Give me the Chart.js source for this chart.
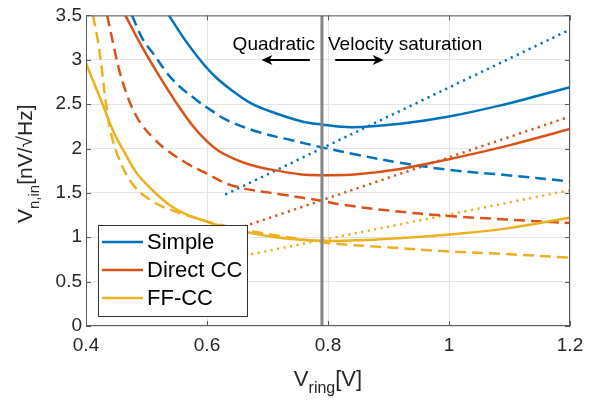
<!DOCTYPE html>
<html>
<head>
<meta charset="utf-8">
<script src="https://cdn.jsdelivr.net/npm/chart.js@4/dist/chart.umd.min.js"></script>
<style>
  body { margin: 0; background: #fff; }
</style>
</head>
<body>
<canvas id="noiseChart" width="596" height="401"></canvas>
<script>
// input-referred noise vs ring voltage, three amplifier variants
const seriesNames = ['Simple', 'Direct CC', 'FF-CC'];
const xTicks = [0.4, 0.6, 0.8, 1, 1.2];
const yTicks = [0, 0.5, 1, 1.5, 2, 2.5, 3, 3.5];
const boundaryX = 0.79; // quadratic / velocity saturation boundary

// Simple
const simpleX = [0.537, 0.565, 0.593, 0.615, 0.643, 0.67, 0.7, 0.754, 0.79, 0.84, 0.92, 1.0, 1.1, 1.15, 1.2];
const simpleY = [3.5, 3.21, 2.96, 2.80, 2.645, 2.52, 2.43, 2.31, 2.27, 2.24, 2.28, 2.36, 2.51, 2.60, 2.69];
const simpleDashX = [0.476, 0.494, 0.511, 0.544, 0.582, 0.607, 0.633, 0.688, 0.742, 0.792, 0.848, 0.919, 1.0, 1.096, 1.2];
const simpleDashY = [3.5, 3.23, 3.07, 2.77, 2.55, 2.43, 2.32, 2.18, 2.09, 2.01, 1.93, 1.84, 1.76, 1.70, 1.63];
const simpleDotX = [0.63, 1.2];
const simpleDotY = [1.48, 3.34];

// Direct CC
const directX = [0.465, 0.489, 0.511, 0.544, 0.577, 0.6, 0.62, 0.643, 0.67, 0.7, 0.754, 0.79, 0.848, 0.919, 1.0, 1.096, 1.2];
const directY = [3.5, 3.19, 2.93, 2.57, 2.25, 2.08, 1.97, 1.89, 1.82, 1.77, 1.71, 1.70, 1.71, 1.77, 1.88, 2.03, 2.22];
const directDashX = [0.435, 0.445, 0.455, 0.469, 0.482, 0.494, 0.511, 0.532, 0.565, 0.593, 0.643, 0.726, 0.79, 0.82, 0.902, 1.0, 1.096, 1.2];
const directDashY = [3.5, 3.18, 2.88, 2.58, 2.38, 2.25, 2.12, 1.99, 1.84, 1.74, 1.58, 1.48, 1.41, 1.37, 1.30, 1.24, 1.20, 1.16];
const directDotX = [0.63, 1.2];
const directDotY = [1.05, 2.36];

// FF-CC
const ffX = [0.4, 0.428, 0.446, 0.465, 0.483, 0.51, 0.537, 0.565, 0.598, 0.616, 0.671, 0.726, 0.792, 0.864, 0.919, 1.0, 1.096, 1.2];
const ffY = [2.96, 2.49, 2.18, 1.94, 1.73, 1.53, 1.37, 1.26, 1.18, 1.14, 1.05, 0.99, 0.96, 0.97, 0.99, 1.03, 1.10, 1.22];
const ffDashX = [0.4116, 0.42, 0.426, 0.433, 0.441, 0.455, 0.478, 0.511, 0.544, 0.58, 0.616, 0.671, 0.754, 0.808, 0.891, 1.0, 1.096, 1.2];
const ffDashY = [3.5, 3.2, 2.9, 2.51, 2.18, 1.88, 1.59, 1.40, 1.30, 1.22, 1.15, 1.07, 0.98, 0.93, 0.89, 0.84, 0.81, 0.77];
const ffDotX = [0.63, 1.2];
const ffDotY = [0.75, 1.53];

const FONT = "'Liberation Sans', Arial, Helvetica, sans-serif";
const BLUE = '#0072BD', RED = '#D95319', YEL = '#EDB120';
const AXIS = '#5a5a5a', TEXT = '#262626';
const DASH = [11, 6], DOT = [2.2, 4.4];

function series(xs, ys, color, dash, label) {
  return {
    label: label || '',
    inLegend: !!label,
    data: xs.map((x, i) => ({ x: x, y: ys[i] })),
    borderColor: color,
    backgroundColor: color,
    borderWidth: 2.5,
    borderDash: dash || [],
    borderCapStyle: 'butt',
    pointRadius: 0,
    tension: 0.4,
    fill: false
  };
}

const datasets = [
  {
    label: '',
    inLegend: false,
    data: [{ x: boundaryX, y: yTicks[0] }, { x: boundaryX, y: yTicks[yTicks.length - 1] }],
    borderColor: '#858585',
    borderWidth: 3,
    pointRadius: 0
  },
  series(simpleX, simpleY, BLUE, null, seriesNames[0]),
  series(directX, directY, RED, null, seriesNames[1]),
  series(ffX, ffY, YEL, null, seriesNames[2]),
  series(simpleDashX, simpleDashY, BLUE, DASH),
  series(directDashX, directDashY, RED, DASH),
  series(ffDashX, ffDashY, YEL, DASH),
  series(simpleDotX, simpleDotY, BLUE, DOT),
  series(directDotX, directDotY, RED, DOT),
  series(ffDotX, ffDotY, YEL, DOT)
];

// text with a lowered, smaller middle part: main + sub + rest
function drawSubText(ctx, x, y, main, sub, rest, size, subSize, drop) {
  ctx.font = size + 'px ' + FONT;
  const w1 = ctx.measureText(main).width;
  const w3 = ctx.measureText(rest).width;
  ctx.font = subSize + 'px ' + FONT;
  const w2 = ctx.measureText(sub).width;
  let cx = x - (w1 + w2 + w3) / 2;
  ctx.textAlign = 'left';
  ctx.textBaseline = 'alphabetic';
  ctx.font = size + 'px ' + FONT;
  ctx.fillText(main, cx, y);
  cx += w1;
  ctx.font = subSize + 'px ' + FONT;
  ctx.fillText(sub, cx, y + drop);
  cx += w2;
  ctx.font = size + 'px ' + FONT;
  ctx.fillText(rest, cx, y);
}

function arrow(ctx, x1, x2, y) {
  const dir = x2 > x1 ? 1 : -1;
  ctx.beginPath();
  ctx.moveTo(x1, y);
  ctx.lineTo(x2 - dir * 6, y);
  ctx.lineWidth = 2;
  ctx.stroke();
  ctx.beginPath();
  ctx.moveTo(x2, y);
  ctx.lineTo(x2 - dir * 11, y - 5);
  ctx.lineTo(x2 - dir * 8, y);
  ctx.lineTo(x2 - dir * 11, y + 5);
  ctx.closePath();
  ctx.fill();
}

const decorations = {
  id: 'decorations',
  afterDatasetsDraw(chart) {
    const ctx = chart.ctx;
    const a = chart.chartArea;
    const xs = chart.scales.x, ys = chart.scales.y;
    ctx.save();

    // box and inward ticks
    ctx.strokeStyle = AXIS;
    ctx.lineWidth = 1;
    ctx.strokeRect(a.left + 0.5, a.top + 0.5, a.right - a.left - 1, a.bottom - a.top - 1);
    ctx.beginPath();
    xTicks.forEach(v => {
      const px = Math.round(xs.getPixelForValue(v)) + 0.5;
      ctx.moveTo(px, a.bottom); ctx.lineTo(px, a.bottom - 5);
      ctx.moveTo(px, a.top); ctx.lineTo(px, a.top + 5);
    });
    yTicks.forEach(v => {
      const py = Math.round(ys.getPixelForValue(v)) + 0.5;
      ctx.moveTo(a.left, py); ctx.lineTo(a.left + 5, py);
      ctx.moveTo(a.right, py); ctx.lineTo(a.right - 5, py);
    });
    ctx.stroke();

    // regime labels and arrows
    ctx.fillStyle = '#000';
    ctx.strokeStyle = '#000';
    ctx.font = '19px ' + FONT;
    ctx.textBaseline = 'alphabetic';
    const ty = ys.getPixelForValue(3.11);
    ctx.textAlign = 'right';
    ctx.fillText('Quadratic', xs.getPixelForValue(0.7785), ty);
    ctx.textAlign = 'left';
    ctx.fillText('Velocity saturation', xs.getPixelForValue(0.8), ty);
    const ay = Math.round(ys.getPixelForValue(3.0));
    arrow(ctx, xs.getPixelForValue(0.770), xs.getPixelForValue(0.690), ay);
    arrow(ctx, xs.getPixelForValue(0.812), xs.getPixelForValue(0.892), ay);

    // legend box
    const lx = a.left + 12, ly = a.bottom - 101, lw = 149, lh = 91;
    ctx.fillStyle = '#fff';
    ctx.fillRect(lx, ly, lw, lh);
    ctx.strokeStyle = '#333';
    ctx.lineWidth = 1;
    ctx.strokeRect(lx + 0.5, ly + 0.5, lw, lh);
    ctx.font = '22px ' + FONT;
    ctx.textAlign = 'left';
    ctx.textBaseline = 'middle';
    let row = 0;
    chart.data.datasets.forEach(ds => {
      if (!ds.inLegend) return;
      const yy = ly + 17 + row * 28;
      ctx.strokeStyle = ds.borderColor;
      ctx.lineWidth = 2.5;
      ctx.setLineDash([]);
      ctx.beginPath();
      ctx.moveTo(lx + 4, yy); ctx.lineTo(lx + 45, yy);
      ctx.stroke();
      ctx.fillStyle = '#000';
      ctx.fillText(ds.label, lx + 49, yy + 1);
      row++;
    });
    ctx.restore();
  },
  afterDraw(chart) {
    const ctx = chart.ctx;
    const a = chart.chartArea;
    ctx.save();
    ctx.fillStyle = TEXT;
    // x title
    drawSubText(ctx, (a.left + a.right) / 2, 386, 'V', 'ring', '[V]', 22, 16, 7);
    // y title, rotated
    ctx.translate(32, (a.top + a.bottom) / 2 - 7);
    ctx.rotate(-Math.PI / 2);
    drawSubText(ctx, 0, 0, 'V', 'n,in', '[nV/\u221AHz]', 21, 15, 7);
    ctx.restore();
  }
};

new Chart(document.getElementById('noiseChart'), {
  type: 'line',
  data: { datasets: datasets },
  plugins: [decorations],
  options: {
    responsive: false,
    animation: false,
    devicePixelRatio: 1,
    layout: { padding: { top: 11, right: 26, left: 0, bottom: 0 } },
    plugins: { legend: { display: false }, tooltip: { enabled: false } },
    scales: {
      x: {
        type: 'linear',
        min: xTicks[0],
        max: xTicks[xTicks.length - 1],
        afterBuildTicks: s => { s.ticks = xTicks.map(v => ({ value: v })); },
        afterFit: s => { s.height = 75; },
        grid: { color: '#e4e4e4', drawTicks: false },
        border: { display: false },
        ticks: {
          padding: 8,
          color: TEXT,
          font: { family: FONT, size: 19 },
          callback: v => String(Math.round(v * 10) / 10)
        }
      },
      y: {
        type: 'linear',
        min: yTicks[0],
        max: yTicks[yTicks.length - 1],
        afterBuildTicks: s => { s.ticks = yTicks.map(v => ({ value: v })); },
        afterFit: s => { s.width = 86; },
        grid: { color: '#e4e4e4', drawTicks: false },
        border: { display: false },
        ticks: {
          padding: 4,
          color: TEXT,
          font: { family: FONT, size: 19 },
          callback: v => String(Math.round(v * 10) / 10)
        }
      }
    }
  }
});
</script>
</body>
</html>
